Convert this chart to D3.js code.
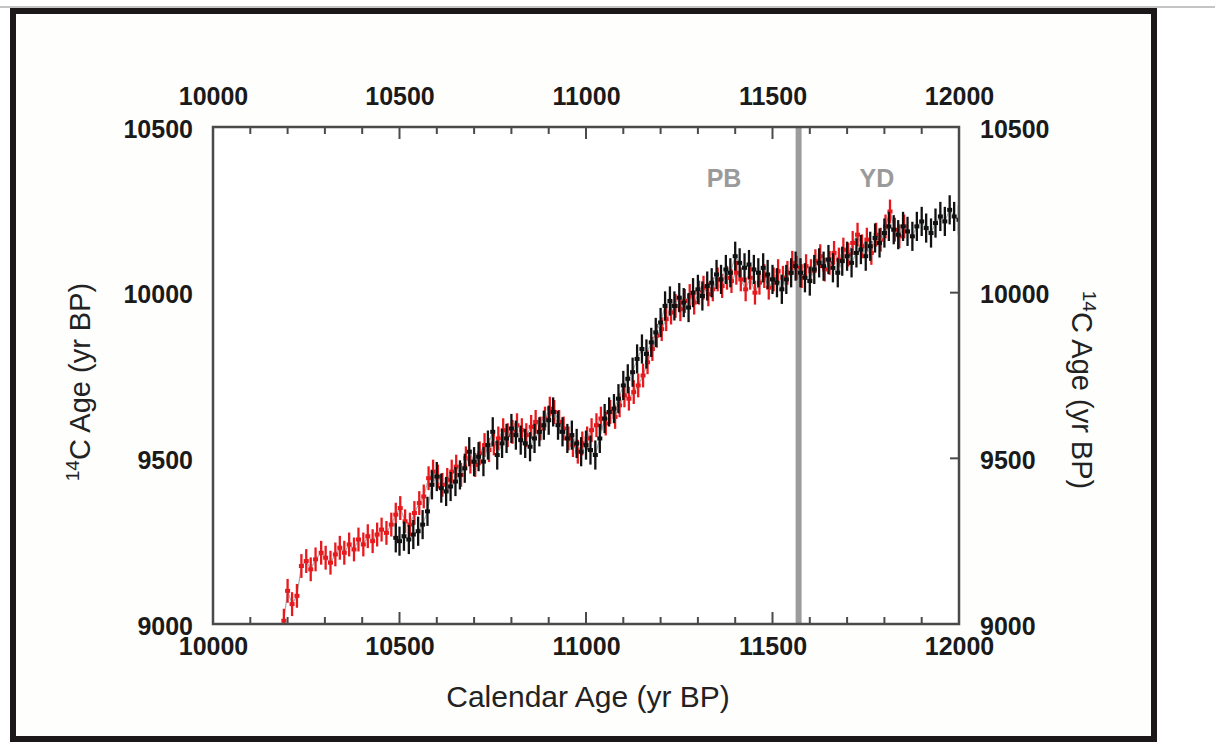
<!DOCTYPE html>
<html><head><meta charset="utf-8">
<script src="https://cdn.jsdelivr.net/npm/d3@7"></script>
<style>html,body{margin:0;padding:0;background:#fff;}svg{display:block;}</style>
</head><body>
<svg id="c" width="1215" height="742"></svg>
<script>
// ---- data ----
const xTicks = [10000, 10500, 11000, 11500, 12000];
const yTicks = [9000, 9500, 10000, 10500];
const boundaryYear = 11570;
const periodLabels = ["PB", "YD"];
const periodYears = [11370, 11780];

const redYears = [10190,10200,10212,10225,10237,10250,10262,10275,10290,10302,10315,10328,10340,10352,10365,10378,10390,10403,10415,10428,10440,10452,10465,10478,10490,10502,10515,10528,10540,10553,10565,10578,10590,10603,10615,10628,10640,10652,10665,10678,10690,10703,10715,10728,10740,10753,10765,10778,10790,10803,10815,10828,10840,10853,10865,10878,10890,10903,10915,10928,10940,10953,10965,10978,10990,11003,11015,11028,11040,11053,11065,11078,11090,11103,11115,11128,11140,11153,11165,11178,11190,11203,11215,11228,11240,11253,11265,11278,11290,11303,11315,11328,11340,11353,11365,11378,11390,11403,11415,11428,11440,11453,11465,11478,11490,11503,11515,11528,11540,11553,11565,11578,11590,11603,11615,11628,11640,11653,11665,11678,11690,11703,11715,11728,11740,11753,11765,11778,11790,11803,11815,11828,11840,11853];
const redAges = [9010,9100,9060,9085,9175,9190,9165,9195,9215,9200,9185,9210,9230,9215,9240,9225,9255,9240,9265,9250,9270,9285,9275,9300,9330,9350,9310,9300,9335,9365,9385,9440,9460,9445,9420,9435,9460,9475,9450,9500,9490,9480,9515,9540,9525,9545,9560,9585,9570,9580,9600,9585,9570,9595,9610,9590,9620,9650,9640,9610,9590,9560,9540,9520,9545,9560,9585,9600,9620,9605,9640,9625,9660,9690,9680,9700,9720,9750,9790,9830,9870,9890,9920,9940,9960,9950,9975,9990,9970,10000,10015,9995,10010,10040,10020,10045,10035,10060,10040,10010,10045,10000,10030,10050,10015,10040,10065,10045,10060,10090,10075,10050,10080,10065,10095,10110,10070,10090,10120,10100,10130,10115,10150,10175,10140,10160,10120,10175,10160,10200,10245,10190,10170,10200];

const blackYears = [10490,10500,10512,10525,10537,10550,10562,10575,10587,10600,10612,10625,10637,10650,10662,10675,10687,10700,10712,10725,10737,10750,10762,10775,10787,10800,10812,10825,10837,10850,10862,10875,10887,10900,10912,10925,10937,10950,10962,10975,10987,11000,11012,11025,11037,11050,11062,11075,11087,11100,11112,11125,11137,11150,11162,11175,11187,11200,11212,11225,11237,11250,11262,11275,11287,11300,11312,11325,11337,11350,11362,11375,11387,11400,11412,11425,11437,11450,11462,11475,11487,11500,11512,11525,11537,11550,11562,11575,11587,11600,11612,11625,11637,11650,11662,11675,11687,11700,11712,11725,11737,11750,11762,11775,11787,11800,11812,11825,11837,11850,11862,11875,11887,11900,11912,11925,11937,11950,11962,11975,11987,12000];
const blackAges = [9260,9250,9265,9255,9270,9280,9300,9340,9420,9445,9410,9400,9415,9430,9450,9470,9520,9490,9505,9490,9540,9580,9510,9545,9560,9590,9570,9555,9545,9535,9560,9580,9600,9615,9640,9600,9580,9560,9570,9545,9520,9540,9525,9510,9560,9620,9640,9650,9680,9720,9740,9760,9800,9830,9815,9850,9880,9910,9960,9975,9960,9985,9970,9955,10000,10010,9990,10020,10030,10055,10040,10070,10060,10110,10090,10075,10085,10070,10060,10075,10055,10040,10030,10010,10040,10060,10080,10060,10045,10035,10070,10090,10080,10100,10075,10060,10095,10110,10090,10120,10130,10110,10140,10165,10150,10180,10200,10190,10175,10200,10185,10170,10200,10215,10195,10180,10210,10230,10215,10250,10230,10220];
const redErr = 36;
const blackErr = 44;

// ---- layout ----
const svg = d3.select("#c");
const L = 213, R = 959, T = 127, B = 624;
const x = d3.scaleLinear().domain([10000, 12000]).range([L, R]);
const y = d3.scaleLinear().domain([9000, 10500]).range([B, T]);

// top grey line and frame
svg.append("line").attr("x1", 0).attr("x2", 1215).attr("y1", 7).attr("y2", 7).attr("stroke", "#c4c4c4").attr("stroke-width", 2);
svg.append("rect").attr("x", 13).attr("y", 11).attr("width", 1141).attr("height", 728)
  .attr("fill", "#fefefc").attr("stroke", "#1c1719").attr("stroke-width", 6);
svg.append("rect").attr("x", L).attr("y", T).attr("width", R - L).attr("height", B - T).attr("fill", "#fff");

const plot = svg.append("g");
plot.append("clipPath").attr("id", "clip").append("rect").attr("x", L).attr("y", T).attr("width", R - L).attr("height", B - T);
const g = plot.append("g").attr("clip-path", "url(#clip)");

// boundary line
g.append("line").attr("x1", x(boundaryYear)).attr("x2", x(boundaryYear)).attr("y1", T).attr("y2", B)
  .attr("stroke", "#9c9c9c").attr("stroke-width", 6);

function drawSeries(years, ages, err, color) {
  const pts = years.map((d, i) => ({ x: d, y: ages[i] }));
  g.append("path").datum(pts)
    .attr("d", d3.line().x(d => x(d.x)).y(d => y(d.y)))
    .attr("fill", "none").attr("stroke", "#8a9a9a").attr("stroke-width", 1.2).attr("opacity", 0.8);
  g.selectAll(null).data(pts).enter().append("line")
    .attr("x1", d => x(d.x)).attr("x2", d => x(d.x))
    .attr("y1", d => y(d.y - err)).attr("y2", d => y(d.y + err))
    .attr("stroke", color).attr("stroke-width", 2.3);
  g.selectAll(null).data(pts).enter().append("rect")
    .attr("x", d => x(d.x) - 2.5).attr("y", d => y(d.y) - 2)
    .attr("width", 5).attr("height", 4).attr("fill", color);
}
drawSeries(redYears, redAges, redErr, "#e8191c");
drawSeries(blackYears, blackAges, blackErr, "#111");

// axes box
const axisColor = "#4a4a4a";
svg.append("rect").attr("x", L).attr("y", T).attr("width", R - L).attr("height", B - T)
  .attr("fill", "none").attr("stroke", axisColor).attr("stroke-width", 2.5);

const fontTick = "'Liberation Sans', Arial, sans-serif";
// minor/major ticks on x (inward)
const tickVals = d3.range(10000, 12001, 100);
svg.selectAll(null).data(tickVals.filter(v => v > 10000 && v < 12000)).enter().append("line")
  .attr("x1", d => x(d)).attr("x2", d => x(d)).attr("y1", B).attr("y2", d => B - (d % 500 === 0 ? 12 : 7))
  .attr("stroke", axisColor).attr("stroke-width", 2);
svg.selectAll(null).data(tickVals.filter(v => v > 10000 && v < 12000)).enter().append("line")
  .attr("x1", d => x(d)).attr("x2", d => x(d)).attr("y1", T).attr("y2", d => T + (d % 500 === 0 ? 12 : 7))
  .attr("stroke", axisColor).attr("stroke-width", 2);
// right ticks
svg.selectAll(null).data([9500, 10000]).enter().append("line")
  .attr("x1", R).attr("x2", R - 9).attr("y1", d => y(d)).attr("y2", d => y(d))
  .attr("stroke", axisColor).attr("stroke-width", 2);

// tick labels via d3 axes
const gxB = svg.append("g").attr("transform", `translate(0,${B})`)
  .call(d3.axisBottom(x).tickValues(xTicks).tickSize(0).tickPadding(13).tickFormat(d3.format("d")));
const gxT = svg.append("g").attr("transform", `translate(0,${T})`)
  .call(d3.axisTop(x).tickValues(xTicks).tickSize(0).tickPadding(22).tickFormat(d3.format("d")));
const gyL = svg.append("g").attr("transform", `translate(${L},0)`)
  .call(d3.axisLeft(y).tickValues(yTicks).tickSize(0).tickPadding(20).tickFormat(d3.format("d")));
const gyR = svg.append("g").attr("transform", `translate(${R},0)`)
  .call(d3.axisRight(y).tickValues(yTicks).tickSize(0).tickPadding(21).tickFormat(d3.format("d")));
[gxB, gxT, gyL, gyR].forEach(a => {
  a.select(".domain").remove();
  a.selectAll("text").attr("font-family", fontTick).attr("font-size", 25).attr("font-weight", "bold").attr("fill", "#1a1a1a");
});
gyL.selectAll("text").attr("dy", "0.4em");
gyR.selectAll("text").attr("dy", "0.4em");

// period labels
svg.selectAll(null).data(periodLabels).enter().append("text")
  .attr("x", (d, i) => x(periodYears[i])).attr("y", 187)
  .attr("text-anchor", "middle").attr("font-family", fontTick).attr("font-size", 25).attr("font-weight", "bold")
  .attr("fill", "#9a9a9a").text(d => d);

// axis titles
svg.append("text").attr("x", 588).attr("y", 707).attr("text-anchor", "middle")
  .attr("font-family", fontTick).attr("font-size", 30).attr("fill", "#222").text("Calendar Age (yr BP)");

function yTitle(tx, ty, rot) {
  const t = svg.append("text").attr("transform", `translate(${tx},${ty}) rotate(${rot})`)
    .attr("text-anchor", "middle").attr("font-family", fontTick).attr("font-size", 29).attr("fill", "#222");
  t.append("tspan").attr("font-size", 19).attr("dy", -11).text("14");
  t.append("tspan").attr("dy", 11).text("C Age (yr BP)");
}
yTitle(90, 382, -90);
yTitle(1072, 390, 90);
</script>
</body></html>
